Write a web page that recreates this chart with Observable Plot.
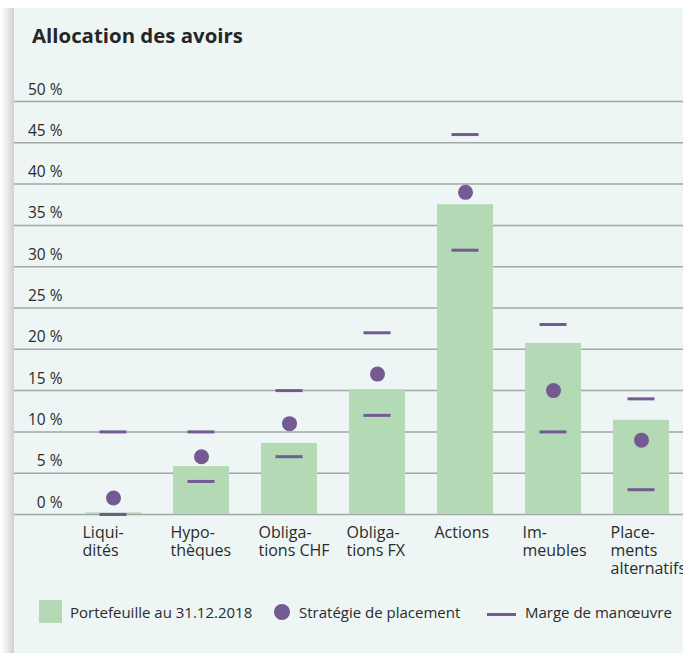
<!DOCTYPE html>
<html>
<head>
<meta charset="utf-8">
<script src="https://cdn.jsdelivr.net/npm/d3@7"></script>
<script src="https://cdn.jsdelivr.net/npm/@observablehq/plot@0.6"></script>
<style>
  html, body { margin: 0; padding: 0; background: #ffffff; }
  body { width: 683px; height: 653px; position: relative; overflow: hidden; font-family: "Open Sans", sans-serif; color: #2b2b2b; }
  #shadow { position: absolute; left: 0; top: 8px; width: 14px; height: 645px; background: linear-gradient(to right, #ffffff 0%, #f0f0f0 40%, #cfd1d1 100%); }
  #card { position: absolute; left: 14px; top: 8px; width: 669px; height: 645px; background: #edf6f4; }
  #title { position: absolute; left: 32px; top: 25px; font-size: 20.4px; font-weight: 700; line-height: 20px; white-space: nowrap; color: #262626; }
  #chart { position: absolute; left: 14px; top: 60px; }
  .lg { position: absolute; font-size: 15px; line-height: 20px; white-space: nowrap; color: #2b2b2b; }
</style>
</head>
<body>
<div id="shadow"></div>
<div id="card"></div>
<div id="title">Allocation des avoirs</div>
<div id="chart"></div>
<div id="legend"></div>
<script>
const categories = ["Liqui-\ndités", "Hypo-\nthèques", "Obliga-\ntions CHF", "Obliga-\ntions FX", "Actions", "Im-\nmeubles", "Place-\nments\nalternatifs"];
const portfolio = [0.2, 5.8, 8.6, 15.1, 37.5, 20.7, 11.4];
const strategy = [2, 7, 11, 17, 39, 15, 9];
const marginMin = [0, 4, 7, 12, 32, 10, 3];
const marginMax = [10, 10, 15, 22, 46, 23, 14];
const yTicks = [0, 5, 10, 15, 20, 25, 30, 35, 40, 45, 50];
const legendLabels = ["Portefeuille au 31.12.2018", "Stratégie de placement", "Marge de manœuvre"];

const green = "#b3dab4";
const purple = "#735a93";

const rows = categories.map((c, i) => ({
  cat: c, portfolio: portfolio[i], strategy: strategy[i], min: marginMin[i], max: marginMax[i]
}));

const chart = Plot.plot({
  width: 669,
  height: 525,
  marginLeft: 0, marginRight: 0, marginTop: 0, marginBottom: 0,
  style: { background: "transparent", fontFamily: "'Open Sans', sans-serif", fontSize: "16px", color: "#2b2b2b", overflow: "visible" },
  x: { domain: categories, range: [69.3, 656.9], paddingInner: 0.368, paddingOuter: 0, axis: null },
  y: { domain: [0, 50], range: [454, 41], axis: null },
  marks: [
    Plot.ruleY(yTicks, { y: d => d, stroke: "#a2a7a7", strokeWidth: 1.5 }),
    Plot.barY(rows, { x: "cat", y: "portfolio", fill: green }),
    Plot.tickY(rows, { x: "cat", y: "min", stroke: purple, strokeWidth: 3, insetLeft: 14.5, insetRight: 14.5 }),
    Plot.tickY(rows, { x: "cat", y: "max", stroke: purple, strokeWidth: 3, insetLeft: 14.5, insetRight: 14.5 }),
    Plot.dot(rows, { x: "cat", y: "strategy", r: 7.5, fill: purple, stroke: "none" }),
    Plot.text(yTicks, { y: d => d, text: d => `${d} %`, frameAnchor: "left", dx: 48, dy: -7, textAnchor: "end", lineAnchor: "bottom", fill: "#2b2b2b", fontSize: 15.5 }),
    Plot.text(rows, { x: "cat", y: 0, text: "cat", dx: -31, dy: 10.5, textAnchor: "start", lineAnchor: "top", lineHeight: 1.125, fill: "#2b2b2b", fontSize: 16 })
  ]
});
document.getElementById("chart").appendChild(chart);

// Legend (HTML, below the chart)
const legend = document.getElementById("legend");
function add(html) { legend.insertAdjacentHTML("beforeend", html); }
add(`<div style="position:absolute;left:39px;top:600px;width:23px;height:23px;background:${green}"></div>`);
add(`<div class="lg" style="left:70px;top:602px">${legendLabels[0]}</div>`);
add(`<div style="position:absolute;left:274px;top:604px;width:16px;height:16px;border-radius:50%;background:${purple}"></div>`);
add(`<div class="lg" style="left:299px;top:602px">${legendLabels[1]}</div>`);
add(`<div style="position:absolute;left:487px;top:613px;width:29px;height:3px;background:${purple}"></div>`);
add(`<div class="lg" style="left:525px;top:602px">${legendLabels[2]}</div>`);
</script>
</body>
</html>
